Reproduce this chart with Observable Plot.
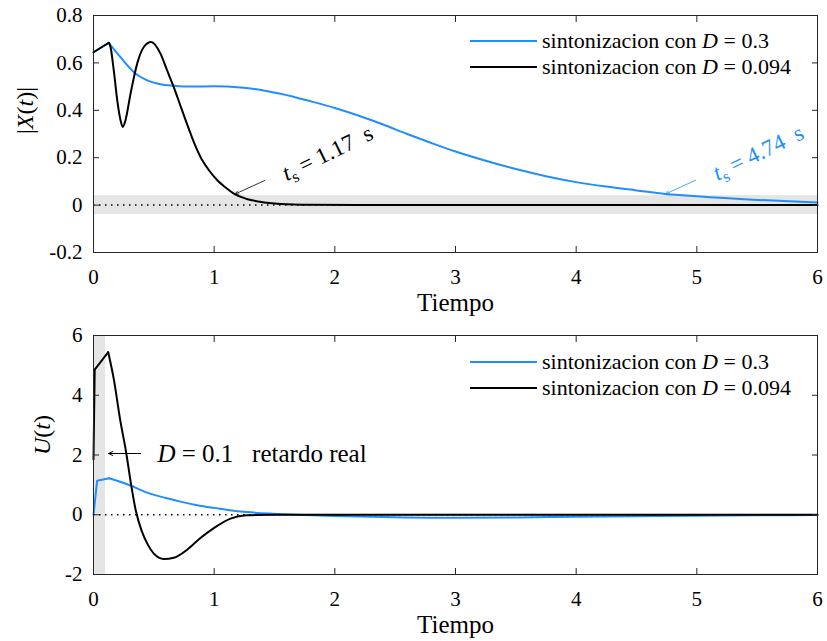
<!DOCTYPE html>
<html><head><meta charset="utf-8">
<script src="https://cdn.jsdelivr.net/npm/d3@7"></script>
<script src="https://cdn.jsdelivr.net/npm/@observablehq/plot@0.6"></script>
<style>
body{margin:0;background:#fff;font-family:"Liberation Serif",serif;}
#wrap{position:relative;width:827px;height:641px;overflow:hidden;}
#wrap svg{display:block;}
.legend{position:absolute;left:470px;font-size:22px;color:#000;font-family:"Liberation Serif",serif;}
.legend .row{display:flex;align-items:center;height:26px;white-space:nowrap;}
.legend .sw{display:inline-block;width:67px;height:2px;margin-right:5px;}
</style></head><body><div id="wrap"></div>
<script>
// ---------- data ----------
const xTicks = [0, 1, 2, 3, 4, 5, 6];
const topYTicks = [-0.2, 0, 0.2, 0.4, 0.6, 0.8];
const botYTicks = [-2, 0, 2, 4, 6];
const seriesNames = ["sintonizacion con *D* = 0.3", "sintonizacion con *D* = 0.094"];

// top panel |X(t)|, D = 0.3 tuning (blue)
const tTopBlue = [0, 0.127, 0.224, 0.334, 0.445, 0.555, 0.665, 0.8, 1.0, 1.22, 1.4, 1.55, 1.8, 2.0, 2.2, 2.4, 2.6, 2.8, 3.0, 3.25, 3.5, 3.75, 4.0, 4.25, 4.5, 4.74, 5.0, 5.5, 6.0];
const xTopBlue = [0.645, 0.685, 0.624, 0.561, 0.526, 0.51, 0.504, 0.5, 0.501, 0.496, 0.485, 0.47, 0.438, 0.41, 0.377, 0.34, 0.30, 0.262, 0.226, 0.187, 0.152, 0.122, 0.097, 0.078, 0.062, 0.047, 0.037, 0.022, 0.011];
// top panel |X(t)|, D = 0.094 tuning (black)
const tTopBlack = [0, 0.127, 0.141, 0.168, 0.2, 0.224, 0.243, 0.265, 0.307, 0.362, 0.417, 0.478, 0.555, 0.61, 0.665, 0.72, 0.78, 0.84, 0.9, 0.96, 1.02, 1.1, 1.17, 1.27, 1.38, 1.55, 1.8, 2.2, 3, 4, 5, 6];
const xTopBlack = [0.645, 0.685, 0.667, 0.568, 0.43, 0.358, 0.33, 0.358, 0.47, 0.597, 0.667, 0.688, 0.639, 0.568, 0.498, 0.42, 0.335, 0.255, 0.19, 0.145, 0.108, 0.072, 0.046, 0.026, 0.014, 0.005, 0.001, 0, 0, 0, 0, 0];

// bottom panel U(t), D = 0.3 (blue)
const tBotBlue = [0, 0.03, 0.13, 0.306, 0.445, 0.6, 0.72, 0.86, 1.0, 1.13, 1.27, 1.45, 1.69, 2.0, 2.5, 3.0, 3.5, 4.0, 4.5, 5.0, 5.5, 6];
const uBotBlue = [0, 1.14, 1.22, 0.98, 0.74, 0.56, 0.44, 0.32, 0.23, 0.15, 0.09, 0.04, 0, -0.04, -0.08, -0.1, -0.09, -0.07, -0.05, -0.03, -0.02, -0.01];
// bottom panel U(t), D = 0.094 (black)
const tBotBlack = [0, 0.01, 0.122, 0.17, 0.22, 0.27, 0.31, 0.35, 0.4, 0.45, 0.5, 0.583, 0.665, 0.776, 0.886, 1.0, 1.135, 1.27, 1.5, 2, 3, 4, 5, 6];
const uBotBlack = [1.86, 4.86, 5.44, 4.5, 3.2, 2.1, 1.05, 0.15, -0.55, -1.0, -1.3, -1.48, -1.44, -1.17, -0.78, -0.44, -0.13, -0.02, 0, 0, 0, 0, 0, 0];

const settleTimes = [1.17, 4.74];
const settleLabels = ["*t*_{s} = 1.17  s", "*t*_{s} = 4.74  s"];
const settleBand = 0.04;
const realDelay = 0.1;
const delayLabel = "*D* = 0.1   retardo real";

// ---------- styles ----------
const BLUE = "#1f8fff", BLACK = "#000000";
const colors = [BLUE, BLACK];
const FONT = '"Liberation Serif", serif';

const rows = (ts, vs) => ts.map((t, i) => ({t, v: vs[i]}));

function lineMarks(data, stroke, kink) {
  return [
    Plot.line(data.slice(0, kink + 1), {x: "t", y: "v", stroke, strokeWidth: 2, curve: "linear"}),
    Plot.line(data.slice(kink), {x: "t", y: "v", stroke, strokeWidth: 2, curve: "monotone-x"})
  ];
}

function frameMarks(yTicks, fmt, yLabel, yLabelDx) {
  return [
    Plot.frame({stroke: "#262626", strokeWidth: 1}),
    Plot.axisX(xTicks, {tickSize: 0, tickPadding: 17, fontSize: 21, tickFormat: d => String(d)}),
    Plot.axisX(xTicks, {tickSize: -6, tickFormat: () => "", stroke: "#262626"}),
    Plot.axisX(xTicks, {anchor: "top", tickSize: -6, tickFormat: () => "", stroke: "#262626"}),
    Plot.axisY(yTicks, {tickSize: 0, tickPadding: 11, fontSize: 21, tickFormat: fmt}),
    Plot.axisY(yTicks, {tickSize: -6, tickFormat: () => "", stroke: "#262626"}),
    Plot.axisY(yTicks, {anchor: "right", tickSize: -6, tickFormat: () => "", stroke: "#262626"}),
    Plot.text(["Tiempo"], {frameAnchor: "bottom", dy: 50, fontSize: 25, lineAnchor: "middle"}),
    Plot.text([yLabel], {frameAnchor: "left", dx: yLabelDx, rotate: -90, fontSize: 24, lineAnchor: "middle"})
  ];
}

function richText(svg) {
  d3.select(svg).selectAll("text").each(function () {
    const el = this;
    if (el.querySelector("tspan")) return;
    const s = el.textContent;
    if (!/[*_]/.test(s)) return;
    el.textContent = "";
    const re = /\*([^*]+)\*|_\{([^}]+)\}|([^*_]+)/g;
    let m, shift = 0;
    while ((m = re.exec(s))) {
      const ts = document.createElementNS("http://www.w3.org/2000/svg", "tspan");
      if (m[1]) { ts.textContent = m[1]; ts.setAttribute("font-style", "italic"); }
      else if (m[2]) { ts.textContent = m[2]; ts.setAttribute("font-size", "0.72em"); ts.setAttribute("dy", "5"); shift = 5; }
      else { ts.textContent = m[3].replace(/ /g, "\u00a0"); }
      if (!m[2] && shift) { ts.setAttribute("dy", String(-shift)); shift = 0; }
      el.appendChild(ts);
    }
  });
}

const wrap = document.getElementById("wrap");

// ---------- top panel ----------
const topBlue = rows(tTopBlue, xTopBlue);
const topBlack = rows(tTopBlack, xTopBlack);
const settlePts = settleTimes.map((t, i) => {
  const d = i === 0 ? topBlack : topBlue;
  const v = d3.scaleLinear(d.map(p => p.t), d.map(p => p.v))(t);
  return {t, v, label: settleLabels[i], color: colors[1 - i]};
});

const topPlot = Plot.plot({
  width: 827, height: 320,
  marginTop: 15, marginBottom: 68, marginLeft: 93, marginRight: 10,
  style: {fontFamily: FONT, background: "#fff", color: "#000", overflow: "visible"},
  x: {domain: [0, 6], label: null},
  y: {domain: [-0.2, 0.8], label: null},
  marks: [
    Plot.rect([{y1: -settleBand, y2: settleBand}], {y1: "y1", y2: "y2", fill: "#e5e5e5"}),
    Plot.ruleY([0], {stroke: "#000", strokeWidth: 1.5, strokeDasharray: "1.5,4.5"}),
    ...lineMarks(topBlue, BLUE, 1),
    ...lineMarks(topBlack, BLACK, 1),
    Plot.arrow(settlePts, {x1: d => d.t + 0.25, y1: d => d.v + 0.058, x2: "t", y2: "v", stroke: "color", strokeWidth: 0.8, headLength: 8, headAngle: 45}),
    Plot.text(settlePts, {x: d => d.t + 0.77, y: d => d.v + 0.173, text: "label", fill: "color", rotate: -26, fontSize: 23, textAnchor: "middle", lineAnchor: "middle"}),
    ...frameMarks(topYTicks, d => d === 0 ? "0" : d.toFixed(1), "|*X*(*t*)|", -68)
  ]
});
richText(topPlot);
wrap.appendChild(topPlot);

// ---------- bottom panel ----------
const botBlue = rows(tBotBlue, uBotBlue);
const botBlack = rows(tBotBlack, uBotBlack);
const delayAnn = [{t: realDelay, u: 2.05, label: delayLabel}];
const bottomPlot = Plot.plot({
  width: 827, height: 321,
  marginTop: 15, marginBottom: 67, marginLeft: 93, marginRight: 10,
  style: {fontFamily: FONT, background: "#fff", color: "#000", overflow: "visible"},
  x: {domain: [0, 6], label: null},
  y: {domain: [-2, 6], label: null},
  marks: [
    Plot.rect([{x1: 0, x2: realDelay}], {x1: "x1", x2: "x2", fill: "#e5e5e5"}),
    Plot.ruleY([0], {stroke: "#000", strokeWidth: 1.5, strokeDasharray: "1.5,4.5"}),
    ...lineMarks(botBlue, BLUE, 2),
    ...lineMarks(botBlack, BLACK, 2),
    Plot.arrow(delayAnn, {x1: d => d.t + 0.29, y1: "u", x2: d => d.t + 0.025, y2: "u", stroke: "#000", strokeWidth: 1, headLength: 7, headAngle: 50}),
    Plot.text(delayAnn, {x: d => d.t + 0.43, y: "u", text: "label", fontSize: 25, textAnchor: "start", lineAnchor: "middle"}),
    ...frameMarks(botYTicks, d => String(d), "*U*(*t*)", -51)
  ]
});
richText(bottomPlot);
wrap.appendChild(bottomPlot);

// ---------- legends ----------
function legend(topPx) {
  const div = document.createElement("div");
  div.className = "legend";
  div.style.top = topPx + "px";
  seriesNames.forEach((name, i) => {
    const row = document.createElement("div");
    row.className = "row";
    const sw = document.createElement("span");
    sw.className = "sw";
    sw.style.background = colors[i];
    row.appendChild(sw);
    const txt = document.createElement("span");
    txt.innerHTML = name.replace(/\*([^*]+)\*/g, "<i>$1</i>");
    row.appendChild(txt);
    div.appendChild(row);
  });
  wrap.appendChild(div);
}
legend(28);
legend(349);
</script></body></html>
